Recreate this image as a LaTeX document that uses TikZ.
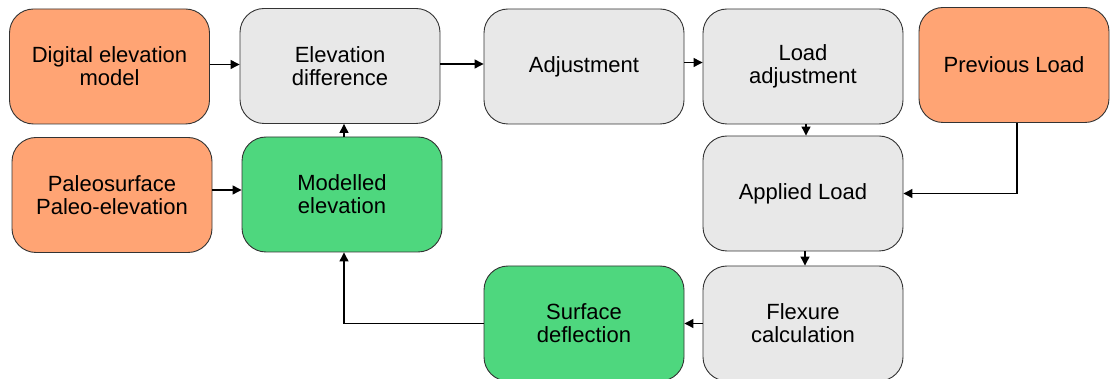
\documentclass[tikz,border=0pt]{standalone}
\usepackage{fontspec}
\setmainfont{Liberation Sans}
\usetikzlibrary{arrows.meta}
\definecolor{cOrange}{HTML}{FFA474}
\definecolor{cGreen}{HTML}{4ED77E}
\definecolor{cGray}{HTML}{E8E8E8}
\definecolor{cBorder}{HTML}{333333}
\tikzset{
  box/.style={draw=cBorder, line width=0.9pt, rounded corners=24pt,
    minimum width=200pt, minimum height=115pt, align=center,
    font=\fontsize{22pt}{23pt}\selectfont, inner sep=0pt},
  orangebox/.style={box, fill=cOrange},
  greenbox/.style={box, fill=cGreen},
  graybox/.style={box, fill=cGray},
  arr/.style={-{Triangle[length=9pt,width=9pt]}, line width=1.2pt, black}
}
\begin{document}
\begin{tikzpicture}[x=1pt,y=-1pt]
\useasboundingbox (0,0) rectangle (1112,379);
\node[orangebox] (dem) at (109.5,66.5) {Digital elevation\\model};
\node[graybox] (ed) at (340,66) {Elevation\\difference};
\node[graybox] (adj) at (584,66.5) {Adjustment};
\node[graybox] (la) at (803,66.5) {Load\\adjustment};
\node[orangebox, minimum width=190pt] (pl) at (1014,65) {Previous Load};
\node[orangebox] (pal) at (112,195) {Paleosurface\\Paleo-elevation};
\node[greenbox] (me) at (342,194.5) {Modelled\\elevation};
\node[graybox] (al) at (803,193.5) {Applied Load};
\node[greenbox] (sd) at (584,323.5) {Surface\\deflection};
\node[graybox] (fc) at (803,323.5) {Flexure\\calculation};

\draw[arr] ([yshift=2pt]dem.east) -- ([yshift=2pt]dem.east -| ed.west);
\draw[arr] ([yshift=2pt]ed.east) -- ([yshift=2pt]ed.east -| adj.west);
\draw[arr] ([yshift=4pt]adj.east) -- ([yshift=4pt]adj.east -| la.west);
\draw[arr] ([xshift=3pt]la.south) -- ([xshift=3pt]la.south |- al.north);
\draw[arr] ([xshift=3pt]pl.south) |- (al.east);
\draw[arr] ([xshift=2pt]al.south) -- ([xshift=2pt]al.south |- fc.north);
\draw[arr] (fc.west) -- (sd.east);
\draw[arr] (sd.west) -| ([xshift=2pt]me.south);
\draw[arr] ([xshift=2pt]me.north) -- ([xshift=2pt]me.north |- ed.south);
\draw[arr] ([yshift=5pt]pal.east) -- ([yshift=5pt]pal.east -| me.west);
\end{tikzpicture}
\end{document}
